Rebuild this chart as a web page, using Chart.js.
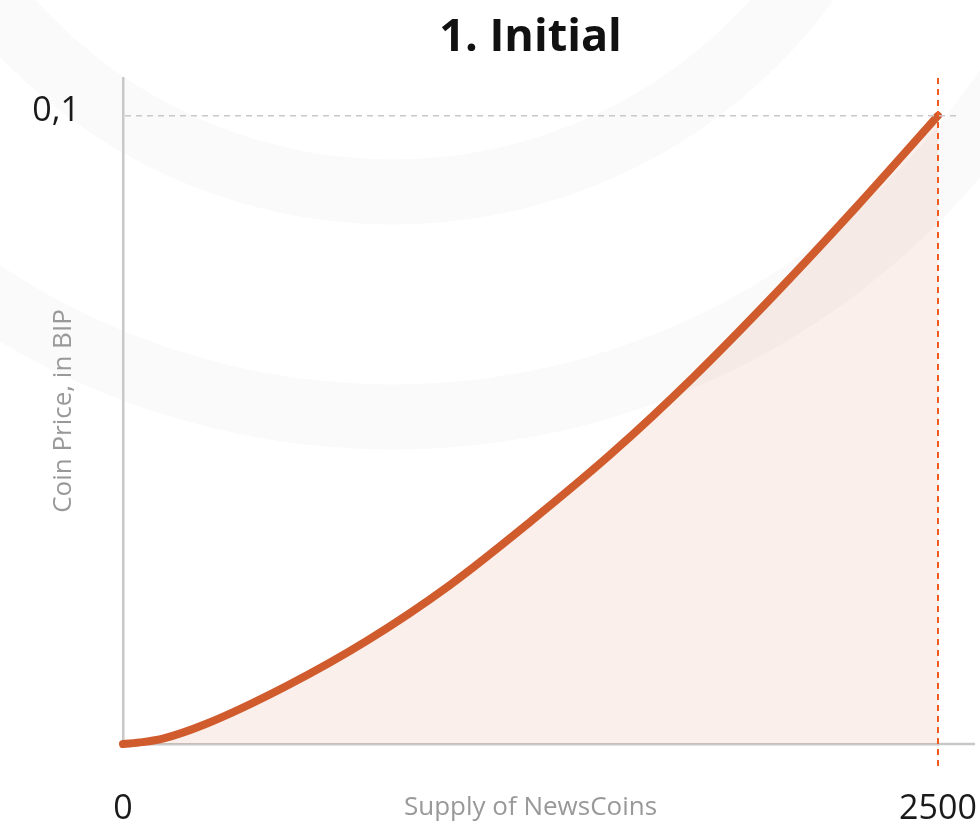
<!DOCTYPE html>
<html>
<head>
<meta charset="utf-8">
<title>1. Initial</title>
<script src="https://cdn.jsdelivr.net/npm/chart.js@4.4.1/dist/chart.umd.min.js"></script>
<style>
  html, body { margin: 0; padding: 0; background: #fff; }
  .chart { width: 980px; height: 827px; }
</style>
</head>
<body>
<div class="chart"><canvas id="myChart"></canvas></div>
<script>
// supply of coins and price
let supply = [0, 60, 125, 250, 500, 750, 1000, 1250, 1500, 1750, 2000, 2250, 2500];
let price = [0, 0.0003, 0.0009, 0.0031, 0.0092, 0.0165, 0.0252, 0.0354, 0.0463, 0.0584, 0.0716, 0.0855, 0.1];

let xTicks = [0, 2500];
let yTicks = [0.1];

// current point marked by the dashed lines
let markSupply = 2500;
let markPrice = 0.1;

let points = supply.map((s, i) => ({ x: s, y: price[i] }));

// faint rings in the background + dashed guide lines
let decor = {
  id: "decor",
  beforeDraw(chart) {
    let ctx = chart.ctx;
    ctx.save();
    ctx.strokeStyle = "#fafafa";
    ctx.lineWidth = 65;
    ctx.beginPath();
    ctx.arc(393, -320, 512, 0, Math.PI * 2);
    ctx.stroke();
    ctx.beginPath();
    ctx.arc(393, -320, 737, 0, Math.PI * 2);
    ctx.stroke();
    ctx.restore();
  },
  afterDraw(chart) {
    let ctx = chart.ctx;
    let area = chart.chartArea;
    let xs = chart.scales.x;
    let ys = chart.scales.y;
    ctx.save();
    // x axis line runs a bit past the plot
    ctx.strokeStyle = "#c8c8c8";
    ctx.lineWidth = 2.5;
    ctx.beginPath();
    ctx.moveTo(area.right, area.bottom);
    ctx.lineTo(area.right + 37, area.bottom);
    ctx.stroke();
    // horizontal dashed line at the price
    let py = ys.getPixelForValue(markPrice);
    ctx.strokeStyle = "#c8c8c8";
    ctx.lineWidth = 1.5;
    ctx.setLineDash([6, 5]);
    ctx.beginPath();
    ctx.moveTo(area.left + 2, py);
    ctx.lineTo(area.right + 19, py);
    ctx.stroke();
    // vertical dashed line at the supply
    let px = xs.getPixelForValue(markSupply);
    ctx.strokeStyle = "#f25a1e";
    ctx.lineWidth = 2;
    ctx.beginPath();
    ctx.moveTo(px, area.top);
    ctx.lineTo(px, area.bottom + 23);
    ctx.stroke();
    ctx.restore();
  }
};

let myChart = new Chart(document.getElementById("myChart").getContext("2d"), {
  type: "line",
  data: {
    datasets: [
      {
        data: points,
        borderColor: "#d05c2e",
        backgroundColor: "rgba(208, 94, 46, 0.1)",
        borderWidth: 8,
        borderCapStyle: "round",
        borderJoinStyle: "round",
        fill: "origin",
        pointRadius: 0,
        tension: 0.4,
        cubicInterpolationMode: "monotone",
        clip: false
      }
    ]
  },
  options: {
    responsive: true,
    maintainAspectRatio: false,
    animation: false,
    layout: { padding: 0 },
    plugins: {
      legend: { display: false },
      tooltip: { enabled: false },
      title: {
        display: true,
        text: "1. Initial",
        fullSize: false,
        color: "#111",
        font: { family: "Open Sans", size: 45, weight: "bold" },
        padding: { top: 11, bottom: 13 }
      }
    },
    scales: {
      x: {
        type: "linear",
        min: 0,
        max: 2500,
        afterBuildTicks: (scale) => { scale.ticks = xTicks.map((v) => ({ value: v })); },
        afterFit: (scale) => {
          scale.height = 83;
          scale.paddingLeft = 12;
          scale.paddingRight = 42;
        },
        grid: { display: false, drawTicks: false },
        border: { display: true, color: "#c8c8c8", width: 2.5 },
        ticks: {
          padding: 45,
          color: "#1a1a1a",
          maxRotation: 0,
          font: { family: "Open Sans", size: 34 },
          callback: (v) => String(v)
        },
        title: {
          display: true,
          text: "Supply of NewsCoins",
          color: "#999",
          font: { family: "Open Sans", size: 26 },
          padding: { top: 0, bottom: 4 }
        }
      },
      y: {
        type: "linear",
        min: 0,
        max: 0.106,
        afterBuildTicks: (scale) => { scale.ticks = yTicks.map((v) => ({ value: v })); },
        afterFit: (scale) => { scale.width = 123; },
        grid: { display: false, drawTicks: false },
        border: { display: true, color: "#c8c8c8", width: 2.5 },
        ticks: {
          padding: 43,
          labelOffset: -4,
          color: "#1a1a1a",
          font: { family: "Open Sans", size: 34 },
          callback: (v) => String(v).replace(".", ",")
        },
        title: {
          display: true,
          text: "Coin Price, in BIP",
          color: "#999",
          font: { family: "Open Sans", size: 26 },
          padding: { top: 48, bottom: 0 }
        }
      }
    }
  },
  plugins: [decor]
});
</script>
</body>
</html>
